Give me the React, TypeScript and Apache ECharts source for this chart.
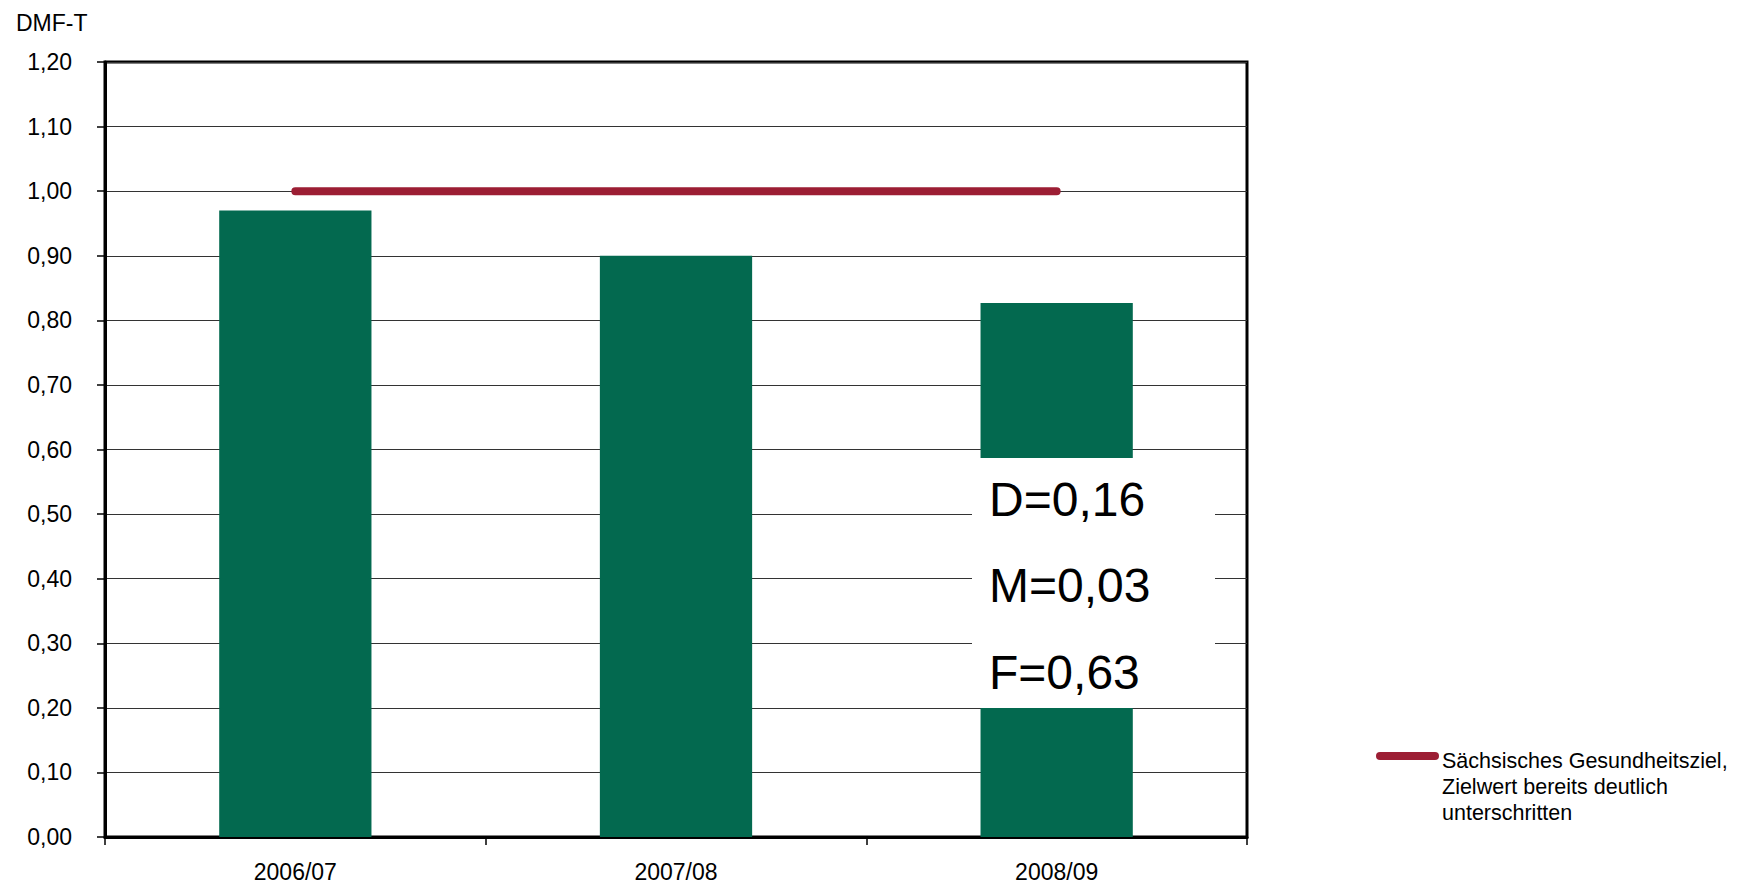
import React, { useEffect, useRef } from "react";
import * as echarts from "echarts";

const categories = ["2006/07", "2007/08", "2008/09"];
const dmfValues = [0.97, 0.9, 0.827];
const targetValues = [1.0, 1.0, 1.0];
const yTicks = { min: 0, max: 1.2, interval: 0.1 };
const annotationLines = ["D=0,16", "M=0,03", "F=0,63"];
const legendLines = ["Sächsisches Gesundheitsziel,", "Zielwert bereits deutlich", "unterschritten"];
const yAxisTitle = "DMF-T";

const FONT = "'Liberation Sans', Arial, sans-serif";
const BAR_COLOR = "#03694F";
const LINE_COLOR = "#9C1E34";

export default function App() {
  const ref = useRef<HTMLDivElement>(null);
  useEffect(() => {
    if (!ref.current) return;
    const chart = echarts.init(ref.current, null, { renderer: "svg" });
    const fmt = (v: number) => v.toFixed(2).replace(".", ",");
    chart.setOption({
      animation: false,
      backgroundColor: "#fff",
      textStyle: { fontFamily: FONT },
      title: {
        text: yAxisTitle,
        left: 11,
        top: 6,
        textStyle: { fontSize: 23, fontWeight: "normal", color: "#000", fontFamily: FONT },
      },
      grid: {
        left: 105,
        top: 62,
        width: 1142,
        height: 775,
        show: true,
        borderColor: "#000",
        borderWidth: 3,
        backgroundColor: "transparent",
      },
      xAxis: {
        type: "category",
        data: categories,
        boundaryGap: true,
        axisLine: { show: true, lineStyle: { color: "#000", width: 3 } },
        axisTick: { show: true, alignWithLabel: false, length: 8, lineStyle: { color: "#000", width: 1.5 } },
        axisLabel: { fontSize: 23, color: "#000", margin: 23, fontFamily: FONT },
        splitLine: { show: false },
      },
      yAxis: {
        type: "value",
        min: yTicks.min,
        max: yTicks.max,
        interval: yTicks.interval,
        axisLine: { show: true, lineStyle: { color: "#000", width: 3 } },
        axisTick: { show: true, length: 8, lineStyle: { color: "#000", width: 1.5 } },
        axisLabel: { fontSize: 23, color: "#000", margin: 33, formatter: fmt, fontFamily: FONT },
        splitLine: { show: true, lineStyle: { color: "#333", width: 1.2 } },
      },
      series: [
        {
          type: "bar",
          data: dmfValues,
          barWidth: "40%",
          itemStyle: { color: BAR_COLOR },
          z: 2,
        },
        {
          type: "line",
          data: targetValues,
          symbol: "none",
          lineStyle: { color: LINE_COLOR, width: 8, cap: "round" },
          z: 3,
        },
      ],
      graphic: [
        {
          type: "rect",
          z: 100,
          shape: { x: 972, y: 458, width: 243, height: 250 },
          style: { fill: "#fff" },
        },
        ...annotationLines.map((t, i) => ({
          type: "text",
          z: 101,
          x: 989,
          y: 499 + i * 86.5,
          style: {
            text: t,
            fontSize: 48,
            fontFamily: FONT,
            fill: "#000",
            verticalAlign: "middle",
            align: "left",
          },
        })),
        {
          type: "line",
          z: 101,
          shape: { x1: 1380, y1: 756, x2: 1435, y2: 756 },
          style: { stroke: LINE_COLOR, lineWidth: 8, lineCap: "round" },
        },
        {
          type: "text",
          z: 101,
          x: 1442,
          y: 748,
          style: {
            text: legendLines.join("\n"),
            fontSize: 21.5,
            lineHeight: 26,
            fontFamily: FONT,
            fill: "#000",
            verticalAlign: "top",
            align: "left",
          },
        },
      ],
    });
    return () => chart.dispose();
  }, []);
  return (
    <div
      ref={ref}
      style={{ position: "absolute", left: 0, top: 0, width: 1744, height: 885 }}
    />
  );
}
